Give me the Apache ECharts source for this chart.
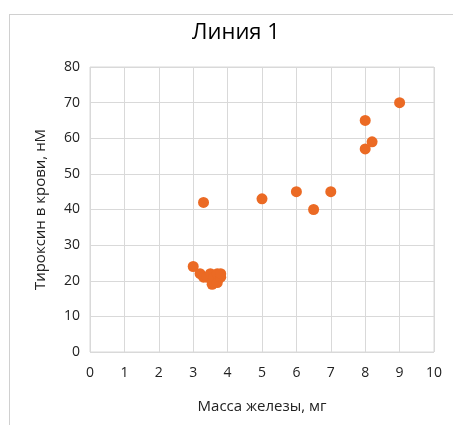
<!DOCTYPE html>
<html>
<head>
<meta charset="utf-8">
<script src="https://cdn.jsdelivr.net/npm/echarts@6/dist/echarts.min.js"></script>
<style>
  html, body { margin: 0; padding: 0; background: #fff; }
  #frame { position: absolute; left: 9px; top: 14px; width: 460px; height: 430px; border: 1px solid #d0d0d0; box-sizing: border-box; }
  #chart { position: absolute; left: 0; top: 0; width: 453px; height: 425px; }
</style>
</head>
<body>
<div id="frame"></div>
<div id="chart"></div>
<script>
// масса железы (мг) и тироксин (нМ)
const massX = [3, 3.2, 3.3, 3.4, 3.5, 3.55, 3.6, 3.7, 3.7, 3.8, 3.8, 3.3, 5, 6, 6.5, 7, 8, 8.2, 8, 9]
const thyroxY = [24, 22, 21, 21, 22, 19, 21, 19.5, 22, 21, 22, 42, 43, 45, 40, 45, 57, 59, 65, 70]
const xTicks = [0, 10]
const yTicks = [0, 80]

const points = massX.map((x, i) => [x, thyroxY[i]])
const font = '"Open Sans", "Noto Sans", sans-serif'

const chart = echarts.init(document.getElementById('chart'))
chart.setOption({
  animation: false,
  title: {
    text: 'Линия 1',
    left: 187,
    top: 17,
    textStyle: { fontFamily: font, fontSize: 22, fontWeight: 'normal', color: '#000' }
  },
  grid: { left: 90, right: 19, top: 67, bottom: 73, show: true, borderColor: '#d9d9d9', borderWidth: 1 },
  xAxis: {
    type: 'value',
    min: xTicks[0], max: xTicks[1], interval: 1,
    name: 'Масса железы, мг',
    nameLocation: 'middle',
    nameGap: 47,
    nameTextStyle: { fontFamily: font, fontSize: 15, color: '#222' },
    axisLine: { show: false },
    axisTick: { show: false },
    axisLabel: { fontFamily: font, fontSize: 14, color: '#222', margin: 14 },
    splitLine: { lineStyle: { color: '#d9d9d9' } }
  },
  yAxis: {
    type: 'value',
    min: yTicks[0], max: yTicks[1], interval: 10,
    name: 'Тироксин в крови, нМ',
    nameLocation: 'middle',
    nameGap: 42,
    nameTextStyle: { fontFamily: font, fontSize: 15, color: '#222' },
    axisLine: { show: false },
    axisTick: { show: false },
    axisLabel: { fontFamily: font, fontSize: 14, color: '#222', margin: 10 },
    splitLine: { lineStyle: { color: '#d9d9d9' } }
  },
  series: [{
    type: 'scatter',
    data: points,
    symbolSize: 11,
    itemStyle: { color: '#eb6a24', opacity: 1 }
  }]
})
</script>
</body>
</html>
